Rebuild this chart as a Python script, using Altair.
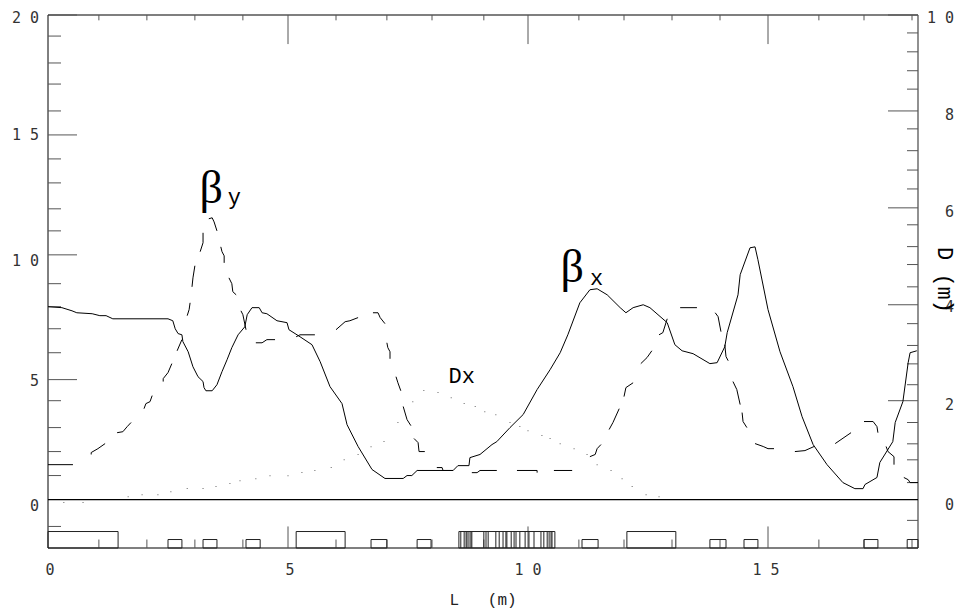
import altair as alt
import pandas as pd

# beta-x (left axis, m)
bx_s = [0,.29,.50,.60,.92,1.08,1.21,1.35,2.5,2.60,2.65,2.71,2.79,2.81,2.92,3.02,3.125,3.23,3.25,3.29,3.42,3.52,3.625,3.73,3.83,3.96,4.10,4.15,4.25,4.40,4.46,4.56,4.77,4.98,5.02,5.25,5.5,5.67,5.875,6.125,6.23,6.46,6.75,7.02,7.40,7.48,7.58,7.69,8.44,8.54,8.77,8.79,9.0,9.25,9.35,9.625,9.90,10.19,10.46,10.67,10.83,11.08,11.29,11.44,11.65,11.92,12.04,12.19,12.40,12.54,12.90,13.06,13.21,13.44,13.79,13.94,14.10,14.15,14.375,14.42,14.625,14.73,14.79,15,15.25,15.52,15.71,15.94,16.23,16.56,16.81,16.98,17.02,17.27,17.33,17.60,17.65,17.81,17.92,17.96,18.10]
bx_v = [7.96,7.92,7.79,7.71,7.67,7.59,7.59,7.46,7.46,7.38,7.05,6.85,6.80,6.52,6.10,5.48,5.07,4.87,4.62,4.49,4.49,4.74,5.28,5.77,6.27,6.80,7.13,7.63,7.92,7.92,7.71,7.67,7.38,7.30,7.01,6.72,6.39,5.69,4.66,3.96,3.09,2.19,1.24,.87,.87,.99,.99,1.20,1.20,1.40,1.40,1.73,1.86,2.27,2.39,2.97,3.51,4.54,5.36,6.06,6.80,8.12,8.66,8.70,8.45,7.92,7.71,7.92,8.04,7.92,7.30,6.39,6.14,6.02,5.61,5.65,6.31,6.89,8.45,9.28,10.39,10.43,9.90,7.84,6.10,4.66,3.42,2.27,1.44,.70,.45,.45,.62,.91,1.53,2.39,3.18,4.04,5.65,6.06,6.14]

# beta-y (left axis, m): each inner list is one dash of the dashed curve
by_dashes = [
 [(0,1.44),(.52,1.44)],
 [(.90,1.86),(.90,1.94),(1.04,2.10),(1.19,2.31)],
 [(1.44,2.76),(1.56,2.80),(1.65,3.01),(1.73,3.18)],
 [(2.0,3.75),(2.04,3.96),(2.125,4.04),(2.17,4.29)],
 [(2.40,4.87),(2.40,4.99),(2.5,5.24),(2.58,5.61)],
 [(2.69,6.14),(2.79,6.60)],
 [(2.90,7.59),(2.94,7.84),(2.96,8.12)],
 [(3.0,8.78),(3.02,9.15),(3.06,9.65)],
 [(3.17,10.23),(3.23,10.60),(3.23,11.01)],
 [(3.35,11.59),(3.42,11.63),(3.46,11.46),(3.52,11.09)],
 [(3.60,10.43),(3.625,10.23),(3.67,10.06),(3.67,9.77)],
 [(3.77,9.15),(3.83,8.91),(3.85,8.58),(3.92,8.45)],
 [(4.02,7.79),(4.06,7.63),(4.125,7.01)],
 [(4.33,6.47),(4.46,6.47),(4.56,6.60),(4.73,6.60)],
 [(5.17,6.72),(5.25,6.80),(5.56,6.80)],
 [(6,7.01),(6.19,7.34),(6.29,7.38),(6.46,7.51)],
 [(6.77,7.71),(6.875,7.71),(6.92,7.51),(7.02,7.26)],
 [(7.06,6.47),(7.08,6.27),(7.125,6.10),(7.125,5.81)],
 [(7.25,5.07),(7.29,4.82),(7.35,4.49)],
 [(7.40,3.84),(7.48,3.30),(7.56,3.05)],
 [(7.625,2.52),(7.71,2.35),(7.73,1.98),(7.85,1.98)],
 [(8.10,1.32),(8.21,1.32),(8.23,1.20),(8.44,1.20)],
 [(8.83,1.11),(8.94,1.11),(9,1.20),(9.35,1.20)],
 [(9.77,1.20),(10.19,1.20),(10.19,1.11)],
 [(10.54,1.20),(10.92,1.20)],
 [(11.29,1.77),(11.40,1.86),(11.44,2.10),(11.52,2.27)],
 [(11.69,2.89),(11.77,3.18),(11.90,3.75)],
 [(12,4.25),(12.04,4.62),(12.19,4.82)],
 [(12.35,5.61),(12.48,5.86),(12.58,6.14)],
 [(12.73,6.80),(12.81,6.89),(12.90,7.46)],
 [(13.17,7.92),(13.52,7.92)],
 [(13.90,7.71),(13.96,7.55),(14.02,6.93)],
 [(14.10,6.39),(14.125,5.90),(14.17,5.73)],
 [(14.27,4.87),(14.35,4.54),(14.42,3.92)],
 [(14.46,3.59),(14.48,3.22),(14.56,2.97)],
 [(14.73,2.31),(14.90,2.19),(15,2.10),(15.125,2.10)],
 [(15.56,1.98),(15.77,2.02),(15.96,2.19)],
 [(16.40,2.31),(16.73,2.76)],
 [(17,3.22),(17.19,3.22),(17.27,3.01),(17.29,2.76)],
 [(17.46,2.19),(17.5,1.98),(17.625,1.77),(17.625,1.44)],
 [(17.83,.91),(17.92,.82),(17.96,.70),(18.125,.70)],
]

# dispersion (right axis, m)
dx_s = [.33,.73,1.67,1.96,2.29,2.56,2.90,3.23,3.5,3.79,4,4.33,4.625,5,5.29,5.56,5.90,6.17,6.46,6.73,7,7.29,7.60,7.83,8.125,8.40,8.67,8.90,9.10,9.33,9.625,9.83,10,10.29,10.46,10.67,10.96,11.23,11.44,11.73,11.96,12.17,12.46,12.73]
dx_v = [-.06,-.06,.06,.10,.10,.16,.23,.23,.27,.33,.39,.43,.49,.49,.56,.60,.66,.82,.93,1.09,1.20,1.59,2.02,2.25,2.21,2.10,1.98,1.92,1.81,1.75,1.59,1.51,1.42,1.32,1.26,1.15,1.05,.93,.72,.60,.43,.27,.10,.06]

# lattice elements
tall_start = [0,5.17,12.06,8.56]
tall_end = [1.46,6.19,13.08,10.56]
short_start = [2.5,3.23,4.125,6.73,7.69,11.125,13.79,14.5,17,17.9]
short_end = [2.79,3.52,4.42,7.06,7.98,11.46,14.125,14.79,17.29,18.125]
dense_lines = [8.60,8.67,8.71,8.73,8.77,8.81,8.83,9.08,9.125,9.17,9.33,9.40,9.48,9.54,9.56,9.65,9.71,9.75,9.83,9.94,10.02,10.125,10.27,10.33,10.40,10.44,10.48,10.5]

# ticks
left_minor = [19.13,18.02,17.15,16.04,14.06,13.07,12.0,11.09,8.91,7.96,7.05,6.06,4.08,2.97,1.98,.99,-1.11]
left_major = [20,15.05,10.10,4.95]
right_minor = [9.63,9.24,8.85,8.47,7.65,7.20,6.80,6.41,5.67,5.22,4.85,4.39,3.63,3.18,2.80,2.37,1.59,1.15,.82,.35,-.43]
right_major = [10,8.02,6.02,4.02,2.04]
x_minor = [1.06,2.06,3.06,4.06,6.0,7.06,8.0,9.08,11.06,12.0,13.0,14.0,16.06,17.0,18.0]
x_major = [5,10,15]

# tick labels: text and where each one sits
left_text = ["2 0","1 5","1 0","5","0"]
left_pos = [19.88,15.05,9.86,4.91,-.25]
right_text = ["1 0","8","6","4","2","0"]
right_pos = [9.94,7.94,5.94,3.98,1.96,-.12]
bottom_text = ["0","5","1 0","1 5"]
bottom_pos = [.04,5.04,10,14.96]

XMAX = 18.125
MONO = "Liberation Mono"
TICKFONT = "DejaVu Sans Mono"
X = alt.Scale(domain=[0, XMAX], nice=False, zero=False)
YL = alt.Scale(domain=[-2, 20], nice=False, zero=False)
YR = alt.Scale(domain=[-1, 10], nice=False, zero=False)
x = lambda f="x": alt.X(f"{f}:Q", scale=X, axis=None)
yl = lambda f="y": alt.Y(f"{f}:Q", scale=YL, axis=None)
yr = lambda f="y": alt.Y(f"{f}:Q", scale=YR, axis=None)

layers = []

# frame
GR = "#555555"
layers.append(alt.Chart(pd.DataFrame({"x":[0,XMAX],"y":[20,20]})).mark_line(color=GR, strokeWidth=1.3).encode(x=x(), y=yl()))
layers.append(alt.Chart(pd.DataFrame({"x":[0,XMAX],"y":[-2,-2]})).mark_line(color=GR, strokeWidth=1.3).encode(x=x(), y=yl()))
layers.append(alt.Chart(pd.DataFrame({"x":[0,0],"y":[-2,20]})).mark_line(color="black", strokeWidth=1).encode(x=x(), y=yl()))
layers.append(alt.Chart(pd.DataFrame({"x":[XMAX,XMAX],"y":[-2,20]})).mark_line(color=GR, strokeWidth=1.3).encode(x=x(), y=yl()))
layers.append(alt.Chart(pd.DataFrame({"x":[0,XMAX],"y":[0,0]})).mark_line(color="black", strokeWidth=1.2).encode(x=x(), y=yl()))

def hticks(vals, x0, x1, y_enc, color=GR):
    return alt.Chart(pd.DataFrame({"y": vals})).mark_rule(color=color, strokeWidth=1).encode(
        x=alt.value(x0), x2=alt.value(x1), y=y_enc)

layers += [
    hticks(left_minor, 0, 13, yl()),
    hticks(left_major, 0, 29, yl()),
    hticks(right_minor, 859, 870, yr()),
    hticks(right_major, 840, 870, yr()),
]

def vticks(vals, y0, y1):
    return alt.Chart(pd.DataFrame({"x": vals, "a":[y0]*len(vals), "b":[y1]*len(vals)})).mark_rule(color=GR, strokeWidth=1).encode(
        x=x(), y=yl("a"), y2=alt.Y2("b"))

layers += [
    vticks(x_minor, 20, 19.78),
    vticks(x_major, 20, 18.8),
    vticks(x_minor, -2, -1.65),
    vticks(x_major, -2, -1.11),
]

# lattice
def boxes(a, b, top):
    return alt.Chart(pd.DataFrame({"a":a,"b":b,"t":[top]*len(a),"u":[-2]*len(a)})).mark_rect(
        fill="transparent", stroke="#222222", strokeWidth=1).encode(
        x=x("a"), x2=alt.X2("b"), y=yl("t"), y2=alt.Y2("u"))

layers += [boxes(tall_start, tall_end, -1.32), boxes(short_start, short_end, -1.65)]
layers.append(alt.Chart(pd.DataFrame({"x":dense_lines,"a":[-2]*len(dense_lines),"b":[-1.32]*len(dense_lines)})).mark_rule(color="#222222", strokeWidth=1).encode(
    x=x(), y=yl("a"), y2=alt.Y2("b")))

# curves
layers.append(alt.Chart(pd.DataFrame({"x":bx_s,"y":bx_v,"o":range(len(bx_s))})).mark_line(color="black", strokeWidth=1).encode(
    x=x(), y=yl(), order="o:Q"))
rows = [{"x":p[0],"y":p[1],"dash":i,"o":j} for i,d in enumerate(by_dashes) for j,p in enumerate(d)]
layers.append(alt.Chart(pd.DataFrame(rows)).mark_line(color="black", strokeWidth=1).encode(
    x=x(), y=yl(), detail="dash:N", order="o:Q"))
layers.append(alt.Chart(pd.DataFrame({"x":dx_s,"y":dx_v})).mark_point(shape="square", filled=True, size=1, color="#666666", opacity=1).encode(
    x=x(), y=yr()))

# tick labels
def side_labels(texts, pos, xp, scale_y):
    return alt.Chart(pd.DataFrame({"y":pos,"t":texts})).mark_text(font=TICKFONT, fontSize=15, align="right", baseline="middle", color="#333333").encode(
        x=alt.value(xp), y=scale_y(), text="t:N")

layers += [side_labels(left_text, left_pos, -9, yl), side_labels(right_text, right_pos, 906, yr)]
layers.append(alt.Chart(pd.DataFrame({"x":bottom_pos,"t":bottom_text})).mark_text(font=TICKFONT, fontSize=15, align="center", baseline="middle", color="#333333").encode(
    x=x(), y=alt.value(555), text="t:N"))

# annotations, placed in data coordinates
def note(xv, yv, text, font, size):
    return alt.Chart(pd.DataFrame({"x":[xv],"y":[yv],"t":[text]})).mark_text(font=font, fontSize=size, align="center", baseline="middle", color="black").encode(
        x=x(), y=yl(), text="t:N")

layers += [
    note(3.40, 12.82, "\u03b2", "Liberation Serif", 46),
    note(3.88, 12.5, "y", MONO, 22),
    note(10.92, 9.57, "\u03b2", "Liberation Serif", 46),
    note(11.43, 9.15, "x", MONO, 22),
    note(8.62, 5.1, "Dx", MONO, 22),
]
layers.append(alt.Chart(pd.DataFrame({"t":["L\u00a0\u00a0\u00a0(m)"]})).mark_text(font=MONO, fontSize=16, align="center", baseline="middle", color="#222222").encode(
    x=alt.value(435), y=alt.value(585), text="t:N"))
layers.append(alt.Chart(pd.DataFrame({"t":["D (m)"]})).mark_text(font=MONO, fontSize=22, angle=90, align="center", baseline="middle", color="black").encode(
    x=alt.value(897), y=alt.value(265), text="t:N"))

chart = alt.layer(*layers).resolve_scale(y="independent").properties(
    width=870, height=533,
    padding={"left":40,"top":7,"right":42,"bottom":64},
    autosize=alt.AutoSizeParams(type="none"),
    background="white",
).configure_view(stroke=None)

chart.save("out.html", embed_options={"renderer": "svg", "actions": False})
